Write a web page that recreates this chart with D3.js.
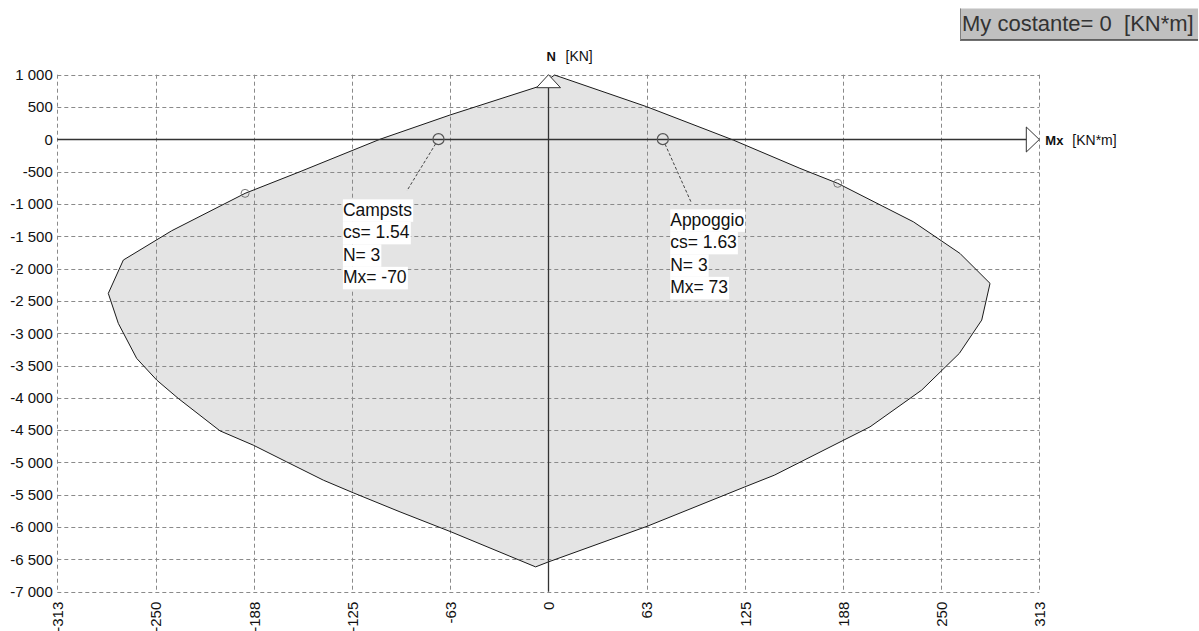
<!DOCTYPE html>
<html>
<head>
<meta charset="utf-8">
<script src="https://cdn.jsdelivr.net/npm/d3@7"></script>
<style>
  html, body { margin: 0; padding: 0; background: #fff; }
  svg { display: block; font-family: "Liberation Sans", Arial, sans-serif; }
</style>
</head>
<body>
<svg id="chart" width="1199" height="631"></svg>
<script>
// ---- data ----
// interaction domain boundary, Mx [KN*m] and N [KN], clockwise from the top
const domainMx = [4, 62.7, 117.9, 160.4, 184.5, 232.7, 262.4, 281.6, 276.3, 262.0, 238.0, 205.1, 144.1, 125.3, 63.2, 0.1, -8.1,
                  -62.0, -94.5, -124.3, -143.4, -166.8, -188.1, -209.3, -235.9, -249.6, -262.4, -274.1, -280.5, -270.9,
                  -240.1, -193.3, -158.3, -107.4, -62.7, -6.6];
const domainN  = [995, 505, -11, -449, -681, -1276, -1765, -2229, -2797, -3313, -3881, -4449, -5197, -5378, -5986, -6539, -6616,
                  -6074, -5765, -5470, -5274, -4991, -4732, -4511, -4009, -3726, -3390, -2848, -2384, -1868,
                  -1415, -836, -501, 0, 376, 814];
// small markers on the boundary
const markMx = [-193.3, 184.5];
const markN  = [-836, -681];
// load points
const pointNames = ["Campsts", "Appoggio"];
const pointCs    = [1.54, 1.63];
const pointN     = [3, 3];
const pointMx    = [-70, 73];
// axes
const xTicks = [-313, -250.4, -187.8, -125.2, -62.6, 0, 62.6, 125.2, 187.8, 250.4, 313];
const yTicks = d3.range(-7000, 1001, 500);
const myConst = 0;

// ---- layout ----
const svg = d3.select("#chart");
const X0 = 57.3, X1 = 1039.3, Y0 = 591.7, Y1 = 74.7;
const x = d3.scaleLinear().domain([-313, 313]).range([X0, X1]);
const y = d3.scaleLinear().domain([-7000, 1000]).range([Y0, Y1]);
const loc = d3.formatLocale({decimal: ".", thousands: " ", grouping: [3], currency: ["", ""], minus: "-"});
const fmtY = loc.format(",d");

// filled domain
const pts = domainMx.map((m, i) => [x(m), y(domainN[i])]);
svg.append("path")
  .attr("d", d3.line()(pts) + "Z")
  .attr("fill", "#e4e4e4").attr("stroke", "none");

// grid
const grid = svg.append("g").attr("stroke", "#8a8a8a").attr("stroke-width", 1).attr("stroke-dasharray", "4,3");
grid.selectAll("line.h").data(yTicks).join("line")
  .attr("x1", X0).attr("x2", X1)
  .attr("y1", d => Math.round(y(d)) + 0.5).attr("y2", d => Math.round(y(d)) + 0.5);
grid.selectAll("line.v").data(xTicks).join("line")
  .attr("y1", Y1).attr("y2", Y0)
  .attr("x1", d => Math.round(x(d)) + 0.5).attr("x2", d => Math.round(x(d)) + 0.5);

// domain outline
svg.append("path")
  .attr("d", d3.line()(pts) + "Z")
  .attr("fill", "none").attr("stroke", "#1a1a1a").attr("stroke-width", 1);

// axes tick labels
const yAxis = svg.append("g").attr("transform", `translate(${X0},0)`)
  .call(d3.axisLeft(y).tickValues(yTicks).tickFormat(fmtY).tickSize(0).tickPadding(4.5));
yAxis.select(".domain").remove();
yAxis.selectAll("text").attr("font-size", 15).attr("fill", "#111").attr("font-family", "Liberation Sans, Arial, sans-serif");

const xAxis = svg.append("g").attr("transform", `translate(0,${Y0})`)
  .call(d3.axisBottom(x).tickValues(xTicks).tickFormat(d => Math.round(d)).tickSize(0));
xAxis.select(".domain").remove();
xAxis.selectAll("text")
  .attr("transform", "rotate(-90)")
  .attr("x", -10).attr("y", 0).attr("dy", "0.36em")
  .attr("text-anchor", "end")
  .attr("font-size", 15).attr("fill", "#111").attr("font-family", "Liberation Sans, Arial, sans-serif");

// main axes lines with hollow arrows
const ax0 = Math.round(x(0)) + 0.5, ay0 = Math.round(y(0)) + 0.5;
svg.append("line").attr("x1", X0).attr("x2", X1 - 13).attr("y1", ay0).attr("y2", ay0)
  .attr("stroke", "#333").attr("stroke-width", 1.3);
svg.append("line").attr("x1", ax0).attr("x2", ax0).attr("y1", Y0).attr("y2", Y1 + 13)
  .attr("stroke", "#333").attr("stroke-width", 1.3);
svg.append("path")
  .attr("d", `M${X1},${ay0} L${X1 - 13},${ay0 - 12.5} L${X1 - 13},${ay0 + 12.5} Z`)
  .attr("fill", "#fff").attr("stroke", "#333").attr("stroke-width", 1);
svg.append("path")
  .attr("d", `M${ax0},${Y1} L${ax0 - 12},${Y1 + 13} L${ax0 + 12},${Y1 + 13} Z`)
  .attr("fill", "#fff").attr("stroke", "#333").attr("stroke-width", 1);

// axis titles
svg.append("text").attr("x", ax0 - 2).attr("y", 61).attr("font-size", 13).attr("font-weight", "bold")
  .attr("fill", "#111").text("N");
svg.append("text").attr("x", ax0 + 17).attr("y", 61).attr("font-size", 14).attr("fill", "#111").text("[KN]");
svg.append("text").attr("x", X1 + 6).attr("y", ay0 + 5).attr("font-size", 13).attr("font-weight", "bold")
  .attr("fill", "#111").text("Mx");
svg.append("text").attr("x", X1 + 33).attr("y", ay0 + 5).attr("font-size", 14).attr("fill", "#111").text("[KN*m]");

// boundary markers
svg.selectAll("circle.mark").data(markMx).join("circle")
  .attr("cx", d => x(d)).attr("cy", (d, i) => y(markN[i])).attr("r", 4)
  .attr("fill", "none").attr("stroke", "#777").attr("stroke-width", 1);

// load points with labels
const labelOff = [{dx: -95.6, dy: 76.7, lx: -31.6, ly: 51.7}, {dx: 7.4, dy: 86.7, lx: 28.4, ly: 63.3}];
pointNames.forEach((name, i) => {
  const px = x(pointMx[i]), py = y(pointN[i]);
  const o = labelOff[i];
  const len = Math.hypot(o.lx, o.ly);
  const r = 5.5;
  svg.append("line")
    .attr("x1", px + o.lx / len * r).attr("y1", py + o.ly / len * r)
    .attr("x2", px + o.lx).attr("y2", py + o.ly)
    .attr("stroke", "#444").attr("stroke-width", 1).attr("stroke-dasharray", "3,2");
  svg.append("circle").attr("cx", px).attr("cy", py).attr("r", r)
    .attr("fill", "none").attr("stroke", "#555").attr("stroke-width", 1.2);
  const lines = [name, `cs= ${pointCs[i].toFixed(2)}`, `N= ${pointN[i]}`, `Mx= ${pointMx[i]}`];
  const g = svg.append("g");
  lines.forEach((t, k) => {
    const bx = px + o.dx, by = py + o.dy + k * 22.5;
    const rect = g.append("rect").attr("fill", "#fff");
    const txt = g.append("text").attr("x", bx).attr("y", by).attr("font-size", 17.5)
      .attr("fill", "#111").text(t);
    const bb = txt.node().getBBox();
    rect.attr("x", bx).attr("y", by - 16.5).attr("width", bb.width + 1).attr("height", 22.5);
  });
});

// constant My box
svg.append("rect").attr("x", 960).attr("y", 8.5).attr("width", 238).attr("height", 31.5).attr("fill", "#c0c0c0");
svg.append("line").attr("x1", 960).attr("x2", 1198).attr("y1", 40).attr("y2", 40).attr("stroke", "#404040").attr("stroke-width", 1.5);
svg.append("line").attr("x1", 960.5).attr("x2", 960.5).attr("y1", 8.5).attr("y2", 40).attr("stroke", "#808080").attr("stroke-width", 1);
svg.append("text").attr("x", 962).attr("y", 31).attr("font-size", 22).attr("fill", "#333")
  .attr("xml:space", "preserve").style("white-space", "pre")
  .text(`My costante= ${myConst}  [KN*m]`);
</script>
</body>
</html>
